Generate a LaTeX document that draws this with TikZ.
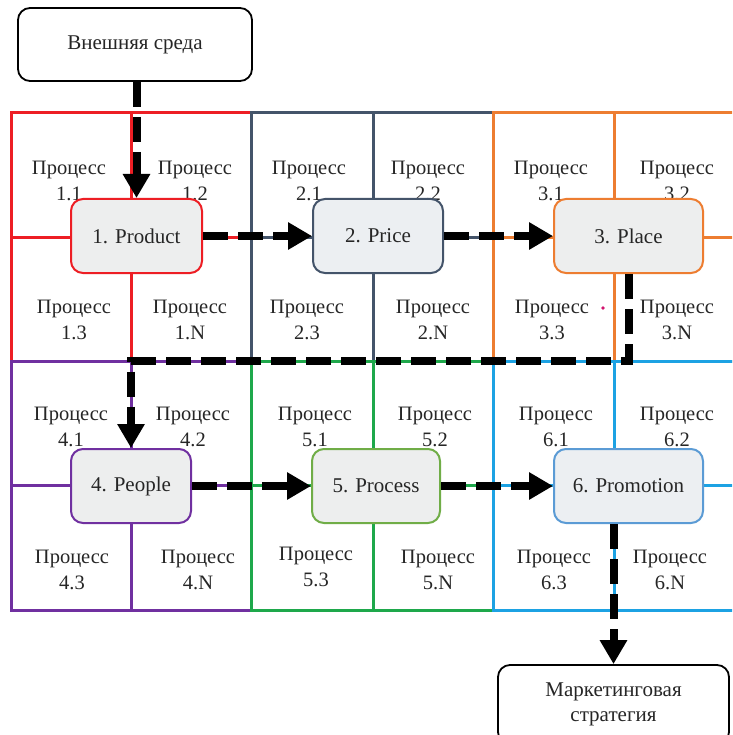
\documentclass[tikz,border=0pt]{standalone}
\usepackage{fontspec}
\setmainfont{Liberation Serif}
\usetikzlibrary{arrows.meta}
\definecolor{cRed}{RGB}{237,30,36}
\definecolor{cSlate}{RGB}{68,84,106}
\definecolor{cOrange}{RGB}{237,125,49}
\definecolor{cPurple}{RGB}{112,48,160}
\definecolor{cGreen}{RGB}{30,168,75}
\definecolor{cBlue}{RGB}{28,162,227}
\definecolor{nGreen}{RGB}{112,173,71}
\definecolor{nBlue}{RGB}{91,155,213}
\definecolor{nodefill}{RGB}{237,238,238}
\definecolor{nodefillb}{RGB}{236,239,242}
\definecolor{dotc}{RGB}{210,20,110}
\newcommand\gridblock[6]{%
  \draw[gridline,draw=#1] (#2,#4) rectangle (#3,#5);
  \draw[gridline,draw=#1] (#6,#4) -- (#6,#5);
  \draw[gridline,draw=#1] (#2,{(#4+#5)/2}) -- (#3,{(#4+#5)/2});
}
\begin{document}
\begin{tikzpicture}[x=1pt,y=-1pt,
  gridline/.style={line width=3pt},
  lbl/.style={align=center, inner sep=0pt, text=black!85, font=\fontsize{20.5}{25.5}\selectfont},
  pnode/.style={draw, line width=2pt, rounded corners=12pt, fill=nodefill, inner sep=0pt,
    text=black!85, font=\fontsize{21}{24}\selectfont, minimum height=74pt},
  obox/.style={draw=black, line width=1.8pt, rounded corners=12pt, fill=white, inner sep=0pt,
    align=center, text=black!85, font=\fontsize{21}{25}\selectfont},
  flow/.style={draw=black, line width=8pt, dash pattern=on 25pt off 10pt, line join=miter,
    -{Triangle[length=24pt,width=26pt]}},
]
\useasboundingbox (0,0) rectangle (732,735);
\clip (0,0) rectangle (732,735);
\fill[white] (0,0) rectangle (732,735);

% grid blocks
\gridblock{cRed}{11}{251}{113}{361}{131}
\gridblock{cSlate}{251}{493}{113}{361}{373}
\gridblock{cOrange}{493}{736}{113}{361}{614}
\gridblock{cPurple}{11}{251}{361}{610}{131}
\gridblock{cGreen}{251}{493}{361}{610}{373}
\gridblock{cBlue}{493}{736}{361}{610}{614}

% process labels
\node[lbl] (t11) at (69,181) {Процесс\\1.1};
\node[lbl] (t12) at (195,181) {Процесс\\1.2};
\node[lbl] (t13) at (74,320) {Процесс\\1.3};
\node[lbl] (t1N) at (190,320) {Процесс\\1.N};
\node[lbl] (t21) at (309,181) {Процесс\\2.1};
\node[lbl] (t22) at (428,181) {Процесс\\2.2};
\node[lbl] (t23) at (307,320) {Процесс\\2.3};
\node[lbl] (t2N) at (433,320) {Процесс\\2.N};
\node[lbl] (t31) at (551,181) {Процесс\\3.1};
\node[lbl] (t32) at (677,181) {Процесс\\3.2};
\node[lbl] (t33) at (552,320) {Процесс\\3.3};
\node[lbl] (t3N) at (677,320) {Процесс\\3.N};
\node[lbl] (t41) at (71,427) {Процесс\\4.1};
\node[lbl] (t42) at (193,427) {Процесс\\4.2};
\node[lbl] (t43) at (72,570) {Процесс\\4.3};
\node[lbl] (t4N) at (198,570) {Процесс\\4.N};
\node[lbl] (t51) at (315,427) {Процесс\\5.1};
\node[lbl] (t52) at (435,427) {Процесс\\5.2};
\node[lbl] (t53) at (316,567) {Процесс\\5.3};
\node[lbl] (t5N) at (438,570) {Процесс\\5.N};
\node[lbl] (t61) at (556,427) {Процесс\\6.1};
\node[lbl] (t62) at (677,427) {Процесс\\6.2};
\node[lbl] (t63) at (554,570) {Процесс\\6.3};
\node[lbl] (t6N) at (670,570) {Процесс\\6.N};

\fill[dotc] (603,308) circle (1.8pt);

% main nodes
\node[pnode, draw=cRed, minimum width=131pt] (prod) at (136.5,236) {1. Product};
\node[pnode, draw=cSlate, fill=nodefillb, minimum width=130pt] (price) at (378,236) {2. Price};
\node[pnode, draw=cOrange, minimum width=149pt] (place) at (628.5,236) {3. Place};
\node[pnode, draw=cPurple, minimum width=120pt] (people) at (131,486) {4. People};
\node[pnode, draw=nGreen, minimum width=128pt] (proc) at (376,486) {5. Process};
\node[pnode, draw=nBlue, fill=nodefillb, minimum width=149pt] (promo) at (628.5,486) {6. Promotion};

% outer boxes
\node[obox, minimum width=234pt, minimum height=73pt] (ext) at (135,44.5) {Внешняя среда};
\node[obox, minimum width=231pt, minimum height=79pt] (strat) at (613.5,704.5) {Маркетинговая\\стратегия};

% connectors
\coordinate (bend) at (380,361);
\draw[flow] (ext.south -| prod.north) -- (prod.north);
\draw[flow] (prod.east) -- (price.west);
\draw[flow] (price.east) -- (place.west);
\draw[flow] (place.south) |- (bend) -| (people.north);
\draw[flow] (people.east) -- (proc.west);
\draw[flow] (proc.east) -- (promo.west);
\draw[flow] (promo.south -| strat.north) -- (strat.north);
\end{tikzpicture}
\end{document}
